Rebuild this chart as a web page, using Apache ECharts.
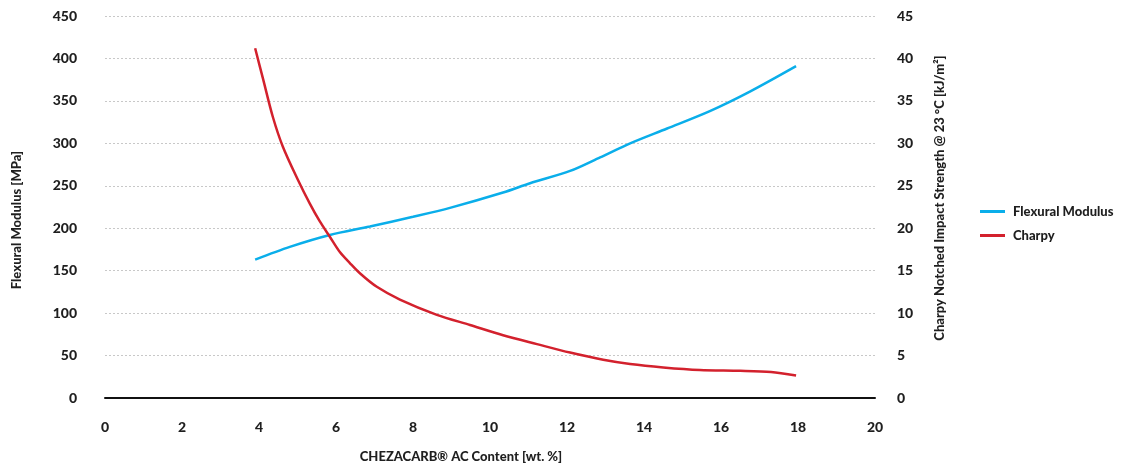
<!DOCTYPE html>
<html>
<head>
<meta charset="utf-8">
<script src="https://cdn.jsdelivr.net/npm/echarts@6/dist/echarts.min.js"></script>
<style>
  html, body { margin: 0; padding: 0; background: #fff; }
  #chart { width: 1121px; height: 466px; }
</style>
</head>
<body>
<div id="chart"></div>
<script>
// Flexural modulus [MPa] vs. carbon black content [wt. %]
const flexX = [3.9, 4.8, 5.84, 6.88, 8.0, 8.96, 10.34, 11.04, 12.08, 12.86, 13.64, 14.6, 15.71, 16.75, 17.95];
const flexY = [163, 178, 192, 202, 213.5, 224, 242, 253, 267.5, 283.5, 300, 317.5, 338, 361, 391];

// Charpy notched impact strength [kJ/m²] vs. carbon black content [wt. %]
const charpyX = [3.9, 4.11, 4.36, 4.62, 5.0, 5.32, 5.58, 5.84, 6.1, 6.36, 6.62, 7.06, 7.66, 8.62, 9.48, 10.34, 11.22, 12.08, 12.94, 13.64, 14.5, 15.45, 16.5, 17.3, 17.95];
const charpyY = [41.2, 37.5, 33.1, 29.6, 25.8, 22.9, 20.8, 19.0, 17.2, 15.9, 14.7, 13.1, 11.6, 9.8, 8.6, 7.4, 6.35, 5.35, 4.5, 4.0, 3.6, 3.3, 3.2, 3.05, 2.65];

// Axis tick definitions
const xTicks = { min: 0, max: 20, step: 2 };
const leftTicks = { min: 0, max: 450, step: 50 };
const rightTicks = { min: 0, max: 45, step: 5 };

const seriesNames = ['Flexural Modulus', 'Charpy'];
const colors = ['#0aaeea', '#d3212d'];

const pair = (xs, ys) => xs.map((x, i) => [x, ys[i]]);

const FONT = 'Lato';
const WEIGHT = 900;
const INK = '#1f1f1f';

const chart = echarts.init(document.getElementById('chart'), null, { renderer: 'canvas' });

chart.setOption({
  animation: false,
  backgroundColor: '#ffffff',
  color: colors,
  textStyle: { fontFamily: FONT, fontWeight: WEIGHT, color: INK },
  grid: { left: 105, right: 246, top: 16, bottom: 68, containLabel: false, outerBoundsMode: 'none' },
  legend: {
    orient: 'vertical',
    left: 975,
    top: 200,
    itemWidth: 25,
    itemHeight: 3,
    itemGap: 11,
    icon: 'rect',
    data: seriesNames,
    textStyle: { fontFamily: FONT, fontWeight: WEIGHT, fontSize: 13, color: INK, padding: [0, 0, 0, 3] }
  },
  xAxis: {
    type: 'value',
    min: xTicks.min,
    max: xTicks.max,
    interval: xTicks.step,
    name: 'CHEZACARB® AC Content [wt. %]',
    nameLocation: 'middle',
    nameGap: 52,
    nameTextStyle: { fontFamily: FONT, fontWeight: WEIGHT, fontSize: 13, color: INK, padding: [0, 58, 0, 0] },
    axisLine: { show: true, onZero: false, lineStyle: { color: '#111', width: 2 } },
    axisTick: { show: false },
    axisLabel: { margin: 22, fontFamily: FONT, fontWeight: WEIGHT, fontSize: 14, color: INK },
    splitLine: { show: false }
  },
  yAxis: [
    {
      type: 'value',
      position: 'left',
      min: leftTicks.min,
      max: leftTicks.max,
      interval: leftTicks.step,
      name: 'Flexural Modulus [MPa]',
      nameLocation: 'middle',
      nameGap: 82,
      nameRotate: 90,
      nameTextStyle: { fontFamily: FONT, fontWeight: WEIGHT, fontSize: 13, color: INK, padding: [0, 26, 0, 0] },
      axisLine: { show: false },
      axisTick: { show: false },
      axisLabel: { margin: 28, fontFamily: FONT, fontWeight: WEIGHT, fontSize: 14, color: INK },
      splitLine: { show: true, lineStyle: { color: '#c8c8c8', type: [2, 2], width: 1 } }
    },
    {
      type: 'value',
      position: 'right',
      min: rightTicks.min,
      max: rightTicks.max,
      interval: rightTicks.step,
      name: 'Charpy Notched Impact Strength @ 23 °C [kJ/m²]',
      nameLocation: 'middle',
      nameGap: 58,
      nameRotate: 90,
      nameTextStyle: { fontFamily: FONT, fontWeight: WEIGHT, fontSize: 13, color: INK, padding: [0, 0, 0, 18] },
      axisLine: { show: false },
      axisTick: { show: false },
      axisLabel: { margin: 22, fontFamily: FONT, fontWeight: WEIGHT, fontSize: 14, color: INK },
      splitLine: { show: false }
    }
  ],
  series: [
    {
      name: seriesNames[0],
      type: 'line',
      yAxisIndex: 0,
      data: pair(flexX, flexY),
      showSymbol: false,
      smooth: 0.3,
      lineStyle: { width: 2.5, color: colors[0] }
    },
    {
      name: seriesNames[1],
      type: 'line',
      yAxisIndex: 1,
      data: pair(charpyX, charpyY),
      showSymbol: false,
      smooth: 0.3,
      lineStyle: { width: 2.5, color: colors[1] }
    }
  ]
});
</script>
</body>
</html>
